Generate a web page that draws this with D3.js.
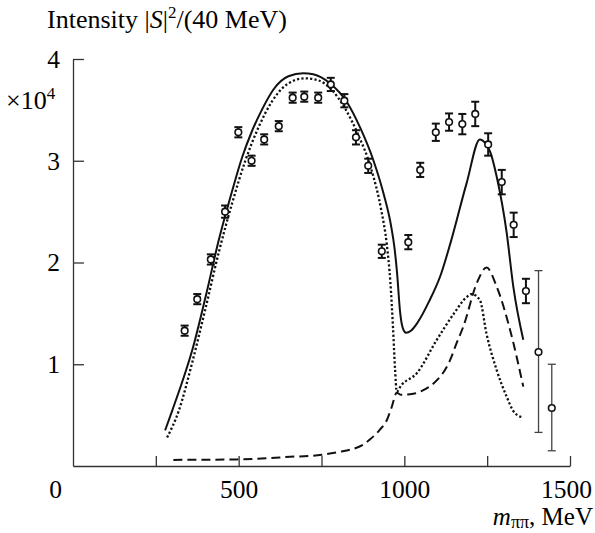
<!DOCTYPE html>
<html><head><meta charset="utf-8">
<script src="https://cdn.jsdelivr.net/npm/d3@7"></script>
<style>
html,body{margin:0;padding:0;background:#fff;}
svg{display:block;font-family:"Liberation Serif","Times New Roman",serif;}
</style></head>
<body><svg id="c" width="595" height="533"></svg>
<script>
// ---- data ----
const xTicks = [0, 250, 500, 750, 1000, 1250, 1500];
const xTickLabels = ["0", "", "500", "", "1000", "", "1500"];
const yTicks = [1, 2, 3, 4];
const yTickLabels = ["1", "2", "3", "4"];

const dataMass = [337,375,416,459,499,539,577,621,663,698,740,778,819,854,891,932,1012,1048,1095,1135,1175,1214,1253,1294,1330,1367,1405,1445];
const dataValue = [1.33,1.64,2.03,2.50,3.28,3.00,3.21,3.34,3.62,3.63,3.62,3.75,3.59,3.23,2.95,2.11,2.20,2.91,3.28,3.38,3.36,3.46,3.16,2.79,2.37,1.72,1.12,0.57];
const dataErrLo = [0.05,0.05,0.05,0.06,0.05,0.05,0.05,0.05,0.05,0.05,0.05,0.065,0.065,0.07,0.07,0.065,0.07,0.07,0.085,0.085,0.10,0.12,0.11,0.12,0.12,0.12,0.79,0.42];
const dataErrHi = [0.05,0.05,0.05,0.06,0.05,0.05,0.05,0.05,0.05,0.05,0.05,0.065,0.065,0.07,0.07,0.065,0.07,0.07,0.085,0.085,0.10,0.12,0.11,0.12,0.12,0.12,0.80,0.43];

const solidMass = [278,300,330,360,400,440,480,510,540,570,605,650,695,725,776,826,866,906,937,960,970,978,987,995,1005,1020,1040,1075,1110,1140,1188,1228,1245,1260,1279,1309,1329,1359];
const solidValue = [0.35,0.55,0.83,1.14,1.66,2.22,2.70,3.03,3.29,3.50,3.70,3.83,3.86,3.85,3.76,3.58,3.33,3.01,2.68,2.36,2.15,1.90,1.52,1.36,1.31,1.33,1.41,1.62,1.88,2.20,2.78,3.21,3.17,3.08,2.84,2.29,1.76,1.24];

const dottedMass = [284,320,360,400,440,480,520,560,600,650,700,740,780,820,860,900,930,947,958,966,972,977,990,1037,1098,1150,1188,1203,1228,1248,1279,1309,1329,1354];
const dottedValue = [0.28,0.55,1.02,1.55,2.10,2.58,3.00,3.33,3.58,3.76,3.81,3.79,3.70,3.52,3.26,2.92,2.52,2.18,1.80,1.35,0.95,0.73,0.79,0.91,1.24,1.50,1.66,1.69,1.63,1.30,0.94,0.68,0.54,0.48];

const dashedMass = [303,494,655,751,806,836,876,896,927,947,962,977,990,1027,1060,1088,1138,1158,1178,1219,1248,1279,1319,1359];
const dashedValue = [0.06,0.065,0.09,0.11,0.14,0.16,0.21,0.26,0.36,0.45,0.58,0.72,0.70,0.71,0.75,0.81,1.04,1.21,1.37,1.80,1.95,1.76,1.34,0.78];

// ---- chart ----
const svg = d3.select("#c");
const x = d3.scaleLinear().domain([0, 1500]).range([73, 570]);
const y = d3.scaleLinear().domain([0, 4]).range([466, 59]);
const axisColor = "#333";
const FONT = '"Liberation Serif","Times New Roman",serif';

const xAxis = svg.append("g").attr("transform", `translate(0,${y(0)})`)
  .call(d3.axisBottom(x).tickValues(xTicks).tickSize(-10).tickSizeOuter(0)
    .tickFormat((d, i) => xTickLabels[i]));
const yAxis = svg.append("g").attr("transform", `translate(${x(0)},0)`)
  .call(d3.axisLeft(y).tickValues(yTicks).tickSize(-11).tickSizeOuter(0)
    .tickFormat((d, i) => yTickLabels[i]));
[xAxis, yAxis].forEach(g => {
  g.selectAll("path,line").attr("stroke", axisColor).attr("stroke-width", 1.3);
  g.selectAll("text").attr("fill", "#000").style("font-size", "25.5px").style("font-family", FONT);
});
xAxis.selectAll("text").attr("y", 32).attr("dy", 0);
xAxis.selectAll(".tick").filter(d => d === 0).select("line").remove();
xAxis.selectAll(".tick").filter(d => d === 0).select("text").attr("dx", -18);
xAxis.selectAll(".tick").filter(d => d === 1500).select("text").attr("dx", -4);
yAxis.selectAll("text").attr("x", -13).attr("dy", "0.33em");

// texts
const title = svg.append("text").attr("x", 47).attr("y", 28).style("font-size", "26px");
title.append("tspan").text("Intensity |");
title.append("tspan").style("font-style", "italic").text("S");
title.append("tspan").text("|");
title.append("tspan").attr("dy", -10).style("font-size", "17px").text("2");
title.append("tspan").attr("dy", 10).text("/(40 MeV)");

const mult = svg.append("text").attr("x", 6).attr("y", 109).style("font-size", "26px");
mult.append("tspan").text("×10");
mult.append("tspan").attr("dy", -10).style("font-size", "17px").text("4");

const xl = svg.append("text").attr("x", 593).attr("y", 525).attr("text-anchor", "end").style("font-size", "25px");
xl.append("tspan").style("font-style", "italic").text("m");
xl.append("tspan").attr("dy", 3).style("font-size", "18px").text("ππ");
xl.append("tspan").attr("dy", -3).text(", MeV");

// curves
function drawCurve(ms, vs, dash, w) {
  const pts = ms.map((m, i) => [m, vs[i]]);
  svg.append("path").datum(pts)
    .attr("d", d3.line().x(d => x(d[0])).y(d => y(d[1])).curve(d3.curveMonotoneX))
    .attr("fill", "none").attr("stroke", "#111").attr("stroke-width", w)
    .attr("stroke-dasharray", dash);
}
drawCurve(solidMass, solidValue, null, 2);
drawCurve(dottedMass, dottedValue, "2.2,2.2", 2.3);
drawCurve(dashedMass, dashedValue, "9,5", 2);

// data points with error bars
const pts = dataMass.map((m, i) => ({m, v: dataValue[i], lo: dataErrLo[i], hi: dataErrHi[i]}));
const g = svg.append("g");
pts.forEach(p => {
  const big = p.hi > 0.3;
  const col = big ? "#444" : "#111";
  const sw = big ? 1.3 : 2;
  const cx = x(p.m);
  g.append("line").attr("x1", cx).attr("x2", cx).attr("y1", y(p.v + p.hi)).attr("y2", y(p.v - p.lo))
    .attr("stroke", col).attr("stroke-width", sw);
  [p.v + p.hi, p.v - p.lo].forEach(v => {
    g.append("line").attr("x1", cx - 4).attr("x2", cx + 4).attr("y1", y(v)).attr("y2", y(v))
      .attr("stroke", col).attr("stroke-width", sw);
  });
  g.append("circle").attr("cx", cx).attr("cy", y(p.v)).attr("r", 3.3)
    .attr("fill", "#fff").attr("stroke", "#111").attr("stroke-width", 1.6);
});
</script></body></html>
